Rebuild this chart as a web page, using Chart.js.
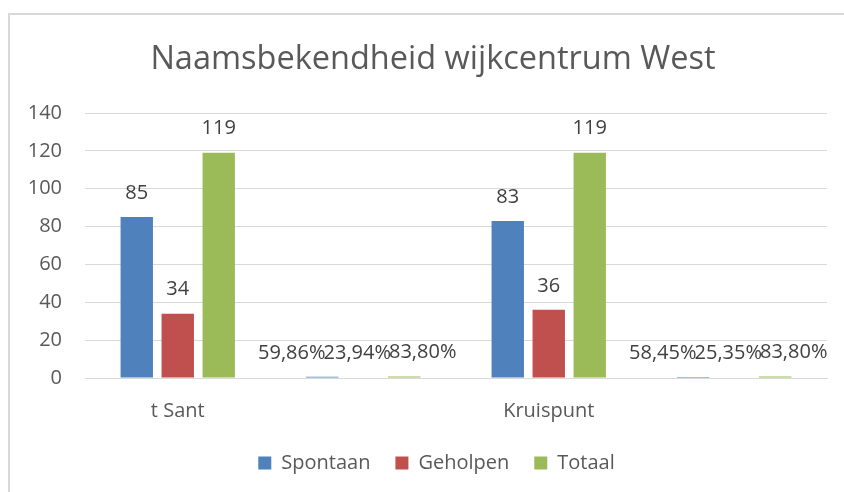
<!DOCTYPE html>
<html>
<head>
<meta charset="utf-8">
<script src="https://cdn.jsdelivr.net/npm/chart.js@4.4.1/dist/chart.umd.min.js"></script>
<style>
  html, body { margin: 0; padding: 0; background: #fff; overflow: hidden; }
  #wrap { position: relative; width: 844px; height: 492px; }
</style>
</head>
<body>
<div id="wrap"><canvas id="c"></canvas></div>
<script>
const chartTitle = 'Naamsbekendheid wijkcentrum West';
const categories = ['t Sant', '', 'Kruispunt', ''];
const seriesNames = ['Spontaan', 'Geholpen', 'Totaal'];
const spontaan = [85, 0.5986, 83, 0.5845];
const geholpen = [34, 0.2394, 36, 0.2535];
const totaal = [119, 0.838, 119, 0.838];
const yMin = 0, yMax = 140, yStep = 20;

const colors = ['#4f81bd', '#c0504d', '#9bbb59'];
const FONT = "'Open Sans', sans-serif";

function fmt(v) {
  if (v < 1) return (v * 100).toFixed(2).replace('.', ',') + '%';
  return String(Math.round(v));
}

const framePlugin = {
  id: 'frame',
  afterLayout(chart) {
    // centre title and legend on the whole chart object, not the plot area
    const t = chart.titleBlock;
    if (t) { t.left += 19; t.width = t.right - t.left; }
    const l = chart.legend;
    if (l) { l.left += 26; l.width = l.right - l.left; }
  },
  beforeDraw(chart) {
    const ctx = chart.ctx;
    ctx.save();
    ctx.strokeStyle = '#d9d9d9';
    ctx.lineWidth = 2;
    ctx.beginPath();
    ctx.moveTo(9, chart.height + 5);
    ctx.lineTo(9, 14);
    ctx.lineTo(chart.width + 5, 14);
    ctx.stroke();
    ctx.restore();
  }
};

const labelPlugin = {
  id: 'barLabels',
  afterDatasetsDraw(chart) {
    const ctx = chart.ctx;
    ctx.save();
    ctx.font = '20px ' + FONT;
    ctx.fillStyle = '#404040';
    ctx.textAlign = 'center';
    ctx.textBaseline = 'middle';
    const n = chart.data.labels.length;
    for (let i = 0; i < n; i++) {
      const items = [];
      chart.data.datasets.forEach((ds, di) => {
        const el = chart.getDatasetMeta(di).data[i];
        const txt = fmt(ds.data[i]);
        items.push({ x: el.x, y: el.y - 24, txt, w: ctx.measureText(txt).width });
      });
      let overlap = false;
      for (let k = 1; k < items.length; k++) {
        if (Math.abs(items[k].y - items[k-1].y) < 18 && items[k].x - items[k-1].x < (items[k].w + items[k-1].w) / 2) overlap = true;
      }
      if (overlap) {
        const maxW = Math.max(...items.map(t => t.w));
        const cx = items.reduce((s, t) => s + t.x, 0) / items.length;
        const m = (items.length - 1) / 2;
        items.forEach((t, k) => { t.x = cx + (k - m) * (maxW - 2) - 6; });
      }
      items.forEach(t => ctx.fillText(t.txt, t.x, t.y));
    }
    ctx.restore();
  }
};

new Chart(document.getElementById('c'), {
  type: 'bar',
  data: {
    labels: categories,
    datasets: [
      { label: seriesNames[0], data: spontaan, backgroundColor: colors[0] },
      { label: seriesNames[1], data: geholpen, backgroundColor: colors[1] },
      { label: seriesNames[2], data: totaal, backgroundColor: colors[2] }
    ]
  },
  options: {
    responsive: true,
    maintainAspectRatio: false,
    animation: false,
    events: [],
    layout: { padding: { left: 20, right: 17, top: 0, bottom: 9 } },
    datasets: { bar: { categoryPercentage: 0.663, barPercentage: 0.79 } },
    plugins: {
      title: {
        display: true,
        text: chartTitle,
        color: '#595959',
        font: { family: FONT, size: 32.5, weight: 'normal' },
        padding: { top: 40, bottom: 34 }
      },
      legend: {
        display: true,
        position: 'bottom',
        labels: {
          color: '#595959',
          font: { family: FONT, size: 20 },
          boxWidth: 13,
          boxHeight: 13,
          padding: 25
        }
      },
      tooltip: { enabled: false }
    },
    scales: {
      x: {
        grid: { display: false, drawTicks: false },
        border: { display: true, color: '#d9d9d9', width: 1 },
        ticks: { color: '#595959', font: { family: FONT, size: 20 }, padding: 21, maxRotation: 0, autoSkip: false },
        afterFit(s) { s.height = s.height - 16; }
      },
      y: {
        min: yMin, max: yMax,
        grid: { color: '#d9d9d9', drawTicks: false },
        border: { display: false },
        ticks: { stepSize: yStep, color: '#595959', font: { family: FONT, size: 20 }, padding: 23 },
        afterFit(s) { s.width = 65; }
      }
    }
  },
  plugins: [framePlugin, labelPlugin]
});
</script>
</body>
</html>
